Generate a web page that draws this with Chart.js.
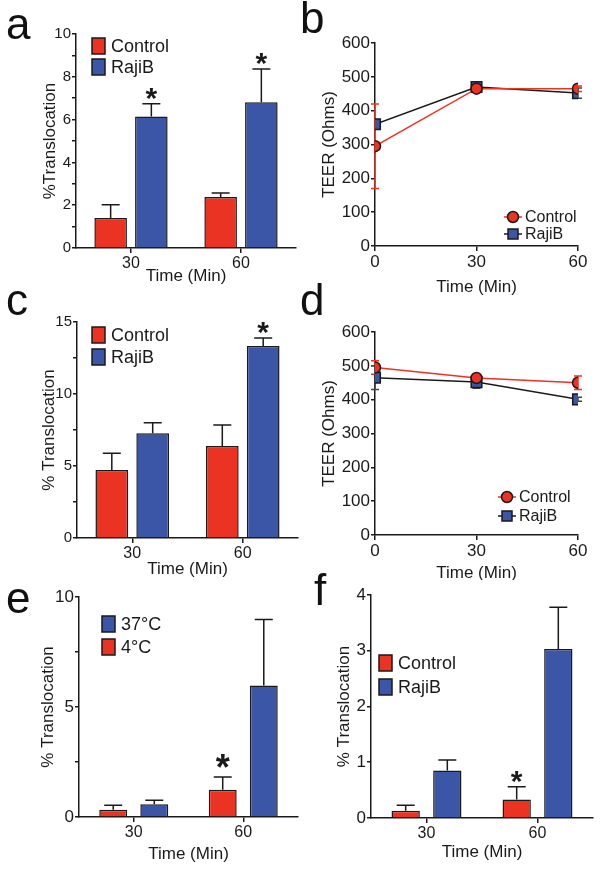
<!DOCTYPE html>
<html>
<head>
<meta charset="utf-8">
<script src="https://cdn.jsdelivr.net/npm/chart.js@4.4.1/dist/chart.umd.min.js"></script>
<style>
body { margin: 0; background: #fff; }
#fig { position: relative; width: 602px; height: 872px; overflow: hidden; }
#fig canvas { position: absolute; }
.lab { position: absolute; font: 44px "Liberation Sans", Arial, sans-serif; line-height: 1; color: #111; }
</style>
</head>
<body>
<div id="fig">
  <canvas id="pa" width="300" height="290" style="left:0;top:0"></canvas>
  <canvas id="pb" width="302" height="295" style="left:300px;top:0"></canvas>
  <canvas id="pc" width="300" height="290" style="left:0;top:290px"></canvas>
  <canvas id="pd" width="302" height="290" style="left:300px;top:290px"></canvas>
  <canvas id="pe" width="300" height="292" style="left:0;top:580px"></canvas>
  <canvas id="pf" width="302" height="292" style="left:300px;top:580px"></canvas>
  <div class="lab" style="left:6px;top:2px">a</div>
  <div class="lab" style="left:300px;top:-4px">b</div>
  <div class="lab" style="left:6px;top:278px">c</div>
  <div class="lab" style="left:300px;top:278px">d</div>
  <div class="lab" style="left:6px;top:576px">e</div>
  <div class="lab" style="left:314px;top:568px">f</div>
</div>
<script>
const ink = '#1a1a1a';
const red = '#ea3323';
const blue = '#3b56a6';

const times = ['30', '60'];

// panel a
const aControl = [1.40, 2.38];
const aControlErr = [0.62, 0.19];
const aRaji = [6.15, 6.81];
const aRajiErr = [0.59, 1.55];

// panel c
const cControl = [4.73, 6.39];
const cControlErr = [1.15, 1.46];
const cRaji = [7.27, 13.34];
const cRajiErr = [0.73, 0.55];

// panel e
const eCold = [0.33, 1.24];
const eColdErr = [0.20, 0.58];
const eWarm = [0.58, 5.98];
const eWarmErr = [0.18, 3.00];

// panel f
const fControl = [0.13, 0.33];
const fControlErr = [0.10, 0.23];
const fRaji = [0.85, 3.03];
const fRajiErr = [0.19, 0.75];

// TEER panels b, d
const teerTimes = [0, 30, 60];
const bControl = [295, 465, 465];
const bControlErr = [125, 0, 8];
const bRaji = [360, 470, 452];
const bRajiErr = [0, 6, 15];
const dControl = [495, 464, 450];
const dControlErr = [20, 8, 20];
const dRaji = [465, 452, 401];
const dRajiErr = [35, 18, 6];

Chart.defaults.font.family = '"Liberation Sans", Arial, sans-serif';
Chart.defaults.color = ink;

// error bars (up only for bars, both ways for TEER)
const errorBars = {
  id: 'errorBars',
  beforeDatasetsDraw(chart) {
    const ctx = chart.ctx, ys = chart.scales.y;
    chart.data.datasets.forEach((ds, i) => {
      if (!ds.errors) return;
      const meta = chart.getDatasetMeta(i);
      ctx.save();
      ctx.strokeStyle = ds.errColor || ink;
      ctx.lineWidth = 1.5;
      meta.data.forEach((el, j) => {
        const e = ds.errors[j];
        if (!e) return;
        const v = meta.controller.getParsed(j).y;
        const top = ys.getPixelForValue(v + e);
        const bot = ds.both ? ys.getPixelForValue(v - e) : el.y;
        const w = (ds.capWidth || 18) / 2;
        ctx.beginPath();
        ctx.moveTo(el.x, bot); ctx.lineTo(el.x, top);
        ctx.moveTo(el.x - w, top); ctx.lineTo(el.x + w, top);
        if (ds.both) { ctx.moveTo(el.x - w, bot); ctx.lineTo(el.x + w, bot); }
        ctx.stroke();
      });
      ctx.restore();
    });
  }
};

const starMarks = {
  id: 'starMarks',
  afterDatasetsDraw(chart, args, o) {
    const ctx = chart.ctx, ys = chart.scales.y;
    chart.data.datasets.forEach((ds, i) => {
      if (!ds.stars) return;
      const meta = chart.getDatasetMeta(i);
      meta.data.forEach((el, j) => {
        if (!ds.stars[j]) return;
        const v = meta.controller.getParsed(j).y + (ds.errors ? ds.errors[j] : 0);
        ctx.save();
        ctx.font = 'bold ' + o.size + 'px "Liberation Sans", Arial, sans-serif';
        ctx.textAlign = 'center';
        ctx.textBaseline = 'alphabetic';
        ctx.fillStyle = ink;
        ctx.fillText('*', el.x, ys.getPixelForValue(v) + o.lift);
        ctx.restore();
      });
    });
  }
};

const panelLegend = {
  id: 'panelLegend',
  afterDraw(chart, args, o) {
    const ctx = chart.ctx, ca = chart.chartArea;
    const sets = chart.data.datasets.slice();
    if (o.reverse) sets.reverse();
    const x0 = o.right ? ca.right - o.dx : ca.left + o.dx;
    const y0 = o.bottom ? ca.bottom - o.dy : ca.top + o.dy;
    ctx.save();
    ctx.font = o.size + 'px "Liberation Sans", Arial, sans-serif';
    ctx.textBaseline = 'middle';
    sets.forEach((ds, i) => {
      const y = y0 + i * o.gap;
      if (o.kind === 'box') {
        ctx.fillStyle = ds.backgroundColor;
        ctx.fillRect(x0, y - 8, 13, 16);
        ctx.strokeStyle = ink; ctx.lineWidth = 1.5;
        ctx.strokeRect(x0, y - 8, 13, 16);
        ctx.fillStyle = ink;
        ctx.fillText(ds.label, x0 + 19, y + 1);
      } else {
        ctx.strokeStyle = ds.borderColor; ctx.lineWidth = 1.5;
        ctx.beginPath(); ctx.moveTo(x0 - 9, y); ctx.lineTo(x0 + 9, y); ctx.stroke();
        ctx.fillStyle = ds.pointBackgroundColor; ctx.strokeStyle = ink;
        ctx.beginPath();
        if (ds.pointStyle === 'rect') ctx.rect(x0 - 5, y - 5, 10, 10);
        else ctx.arc(x0, y, 5.5, 0, Math.PI * 2);
        ctx.fill(); ctx.stroke();
        ctx.fillStyle = ink;
        ctx.fillText(ds.label, x0 + 12, y + 1);
      }
    });
    ctx.restore();
  }
};

// work out padding and axis sizes so the plot area lands where wanted
function frame(rect, area, yTitleX, xTitleY) {
  const half = 10.2;
  return {
    padding: {
      left: yTitleX - half - rect.left,
      top: area.top - rect.top,
      right: rect.left + rect.w - area.right,
      bottom: rect.top + rect.h - xTitleY - half
    },
    yWidth: area.left - (yTitleX - half),
    xHeight: xTitleY + half - area.bottom
  };
}

function yAxis(f, title, max, step, major, size) {
  return {
    min: 0, max: max,
    border: { color: ink, width: 1.5 },
    grid: { drawOnChartArea: false, tickLength: 4, color: ink, lineWidth: 1.5 },
    ticks: {
      stepSize: step, padding: 1, color: ink, font: { size: size }, autoSkip: false,
      callback: v => (Math.abs(v / major - Math.round(v / major)) < 1e-6 ? v : '')
    },
    title: { display: true, text: title, color: ink, font: { size: 17 }, padding: 0 },
    afterFit: s => { s.width = f.yWidth; }
  };
}

function xTitle() {
  return { display: true, text: 'Time (Min)', color: ink, font: { size: 17 }, padding: 0 };
}

function barChart(id, f, yTitle, max, step, major, tickSize, sets, legend, star) {
  return new Chart(document.getElementById(id), {
    type: 'bar',
    data: { labels: times, datasets: sets },
    options: {
      responsive: false, animation: false, devicePixelRatio: 1,
      layout: { padding: f.padding },
      scales: {
        x: {
          border: { color: ink, width: 1.5 },
          grid: { drawOnChartArea: false, offset: false, tickLength: 5, color: ink, lineWidth: 1.5 },
          ticks: { padding: 1, color: ink, font: { size: 16 } },
          title: xTitle(),
          afterFit: s => { s.height = f.xHeight; }
        },
        y: yAxis(f, yTitle, max, step, major, tickSize)
      },
      plugins: {
        legend: { display: false }, tooltip: { enabled: false },
        panelLegend: legend,
        starMarks: star
      }
    },
    plugins: [errorBars, starMarks, panelLegend]
  });
}

function barSet(label, data, errors, color, stars, geom) {
  return {
    label: label, data: data, errors: errors, stars: stars,
    backgroundColor: color, borderColor: ink, borderWidth: 1.5,
    categoryPercentage: geom[0], barPercentage: geom[1]
  };
}

function lineSet(label, vals, errors, color, lineColor, style, radius) {
  return {
    label: label,
    data: teerTimes.map((t, i) => ({ x: t, y: vals[i] })),
    errors: errors, both: true, errColor: color === red ? red : '#444', capWidth: 8,
    borderColor: lineColor, borderWidth: 1.5,
    pointStyle: style, pointRadius: radius, pointBackgroundColor: color,
    pointBorderColor: ink, pointBorderWidth: 1.5
  };
}

function teerChart(id, f, sets, legend) {
  return new Chart(document.getElementById(id), {
    type: 'line',
    data: { datasets: sets },
    options: {
      responsive: false, animation: false, devicePixelRatio: 1,
      layout: { padding: f.padding },
      scales: {
        x: {
          type: 'linear', min: 0, max: 60,
          border: { color: ink, width: 1.5 },
          grid: { drawOnChartArea: false, tickLength: 5, color: ink, lineWidth: 1.5 },
          ticks: { stepSize: 30, padding: 1, color: ink, font: { size: 17 } },
          title: xTitle(),
          afterFit: s => { s.height = f.xHeight; }
        },
        y: yAxis(f, 'TEER (Ohms)', 600, 100, 100, 17)
      },
      plugins: {
        legend: { display: false }, tooltip: { enabled: false },
        panelLegend: legend
      }
    },
    plugins: [errorBars, panelLegend]
  });
}

const wideBars = [0.74, 0.80];
const thinBars = [0.75, 0.68];
const smallStar = { size: 30, lift: 4 };

const fa = frame({ left: 0, top: 0, w: 300, h: 290 }, { left: 76, right: 296, top: 34, bottom: 248 }, 50, 276);
barChart('pa', fa, '%Translocation', 10, 1, 2, 15, [
  barSet('Control', aControl, aControlErr, red, null, wideBars),
  barSet('RajiB', aRaji, aRajiErr, blue, [true, true], wideBars)
], { kind: 'box', dx: 16, dy: 12, gap: 21, size: 18 }, smallStar);

const fb = frame({ left: 300, top: 0, w: 302, h: 295 }, { left: 375, right: 578, top: 43, bottom: 246 }, 329, 287);
teerChart('pb', fb, [
  lineSet('Control', bControl, bControlErr, red, red, 'circle', 5.5),
  lineSet('RajiB', bRaji, bRajiErr, blue, ink, 'rect', 7.5)
], { kind: 'marker', right: true, bottom: true, dx: 65, dy: 29, gap: 17, size: 16 });

const fc = frame({ left: 0, top: 290, w: 300, h: 290 }, { left: 77, right: 298, top: 322, bottom: 538 }, 49, 569);
barChart('pc', fc, '% Translocation', 15, 2.5, 5, 15, [
  barSet('Control', cControl, cControlErr, red, null, wideBars),
  barSet('RajiB', cRaji, cRajiErr, blue, [false, true], wideBars)
], { kind: 'box', dx: 15, dy: 13, gap: 22, size: 18 }, smallStar);

const fd = frame({ left: 300, top: 290, w: 302, h: 290 }, { left: 375, right: 578, top: 332, bottom: 535 }, 329, 573);
teerChart('pd', fd, [
  lineSet('Control', dControl, dControlErr, red, red, 'circle', 5.5),
  lineSet('RajiB', dRaji, dRajiErr, blue, ink, 'rect', 7.5)
], { kind: 'marker', right: true, bottom: true, dx: 71, dy: 38, gap: 19, size: 16 });

const fe = frame({ left: 0, top: 580, w: 300, h: 292 }, { left: 79, right: 298, top: 597, bottom: 817 }, 48, 854);
barChart('pe', fe, '% Translocation', 10, 2.5, 5, 17, [
  barSet('4°C', eCold, eColdErr, red, [false, true], thinBars),
  barSet('37°C', eWarm, eWarmErr, blue, null, thinBars)
], { kind: 'box', reverse: true, dx: 23, dy: 27, gap: 23, size: 18 }, { size: 36, lift: 3 });

const ff = frame({ left: 300, top: 580, w: 302, h: 292 }, { left: 371, right: 593, top: 595, bottom: 818 }, 344, 852);
barChart('pf', ff, '% Translocation', 4, 1, 1, 17, [
  barSet('Control', fControl, fControlErr, red, [false, true], thinBars),
  barSet('RajiB', fRaji, fRajiErr, blue, null, thinBars)
], { kind: 'box', dx: 8, dy: 68, gap: 24, size: 18 }, smallStar);
</script>
</body>
</html>
